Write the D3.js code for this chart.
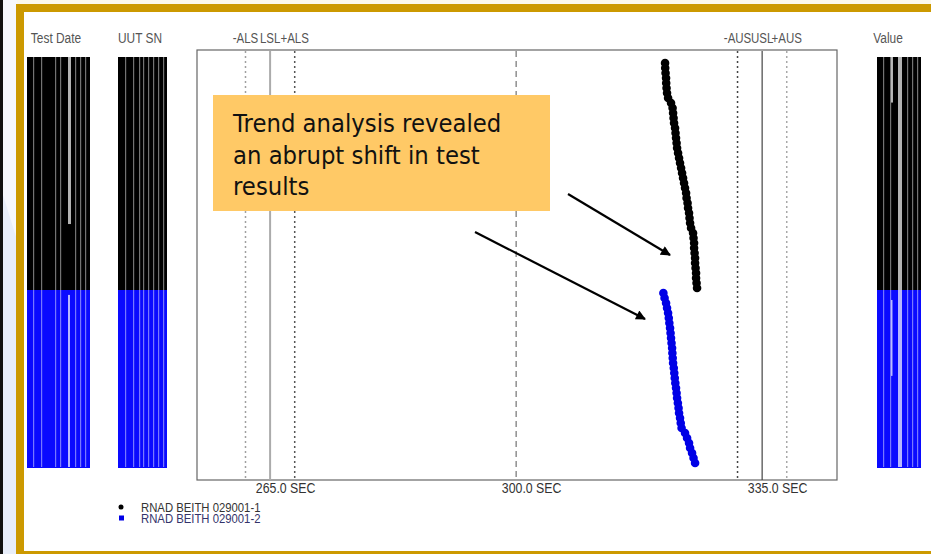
<!DOCTYPE html>
<html>
<head>
<meta charset="utf-8">
<script src="https://cdn.jsdelivr.net/npm/d3@7"></script>
<style>
  body { margin: 0; background: #fff; }
  svg { display: block; }
</style>
</head>
<body>
<svg id="chart" width="931" height="554"></svg>
<script>
// test results in seconds, one per run, in test order
let unit1Values = [
  321.19, 321.21, 321.26, 321.33, 321.35, 321.40, 321.47, 321.62, 322.04, 322.26,
  322.33, 322.40, 322.47, 322.61, 322.68, 322.75, 322.83, 322.90, 323.04, 323.18,
  323.32, 323.47, 323.61, 323.75, 323.89, 324.03, 324.18, 324.25, 324.39, 324.46,
  324.60, 324.67, 324.75, 324.89, 325.17, 325.24, 325.32, 325.32, 325.39, 325.46,
  325.46, 325.53, 325.60, 325.60, 325.67, 325.74
];
let unit2Values = [
  320.95, 321.12, 321.33, 321.47, 321.62, 321.72, 321.80, 321.90, 321.97, 322.04,
  322.11, 322.19, 322.23, 322.28, 322.33, 322.43, 322.50, 322.57, 322.65, 322.75,
  322.83, 322.90, 323.01, 323.11, 323.18, 323.32, 323.42, 323.54, 324.03, 324.32,
  324.60, 324.75, 325.03, 325.24, 325.46
];
let seriesNames = ["RNAD BEITH 029001-1", "RNAD BEITH 029001-2"];
let seriesColors = ["#000000", "#0000e6"];
let specLimits = [265, 335];      // LSL, USL
let alertBand = 3.5;              // +/- ALS, +/- AUS
let centerValue = 300;
let tickValues = [265, 300, 335];
let columnHeaders = ["Test Date", "UUT SN", "Value"];
let limitLabels = ["-ALS", "LSL", "+ALS", "-AUS", "USL", "+AUS"];
let calloutLines = ["Trend analysis revealed", "an abrupt shift in test", "results"];

let svg = d3.select("#chart");
let gold = "#cc9900";

// slide background and frame
svg.append("rect").attr("width", 931).attr("height", 554).attr("fill", "#fff");
svg.append("rect").attr("width", 931).attr("height", 5).attr("fill", "#fbf8ea");
svg.append("rect").attr("width", 17).attr("height", 554).attr("fill", "#f6f8fd");
svg.append("polygon").attr("points", "3,195 17,240 17,554 3,554").attr("fill", "#e8eefa");
svg.append("rect").attr("width", 3).attr("height", 554).attr("fill", "#111");
svg.append("rect")
  .attr("x", 20).attr("y", 8).attr("width", 960).attr("height", 547)
  .attr("fill", "#fff").attr("stroke", gold).attr("stroke-width", 8);

// rows: every run of both units, in order
let rows = unit1Values.map(v => ({ s: 0, v: v }))
  .concat(unit2Values.map(v => ({ s: 1, v: v })));

let plot = { left: 197, top: 50, right: 837, bottom: 480 };

let x = d3.scaleLinear().domain([254.6, 345.65]).range([plot.left, plot.right]);
let y = d3.scaleLinear().domain([0, rows.length - 1]).range([63, 463]);
let rowBand = d3.scaleBand().domain(d3.range(rows.length)).range([57, 467]);

// narrow font helper (the original uses a condensed face)
let narrow = (sel, factor) => {
  sel.each(function () {
    let len = this.getComputedTextLength();
    d3.select(this).attr("textLength", len * factor).attr("lengthAdjust", "spacingAndGlyphs");
  });
};

// listing columns drawn as packed rows
let columns = [
  { x: 27, w: 63, gaps: [6, 14, 28, 33, 48, 53, 58], light: [[41, 3, 0, 32], [41, 2, 47, 80]] },
  { x: 118, w: 49, gaps: [7, 15, 21, 25, 30, 35, 40, 45], light: [] },
  { x: 877, w: 44, gaps: [6, 13, 30, 35, 40], light: [[21, 4, 0, 80], [14, 2, 0, 8], [14, 1.5, 48, 62]] }
];

columns.forEach(col => {
  let g = svg.append("g");
  g.selectAll("rect.row")
    .data(rows)
    .enter()
    .append("rect")
    .attr("class", "row")
    .attr("x", col.x)
    .attr("y", (d, i) => rowBand(i))
    .attr("width", col.w)
    .attr("height", rowBand.bandwidth() + 1)
    .attr("shape-rendering", "crispEdges")
    .attr("fill", d => d.s === 0 ? "#000" : "#0a0aff");
  g.selectAll("rect.gap")
    .data(col.gaps)
    .enter()
    .append("rect")
    .attr("x", d => col.x + d)
    .attr("y", rowBand(0))
    .attr("width", 1.2)
    .attr("height", rowBand.range()[1] - rowBand(0))
    .attr("fill", "#fff")
    .attr("opacity", 0.45);
  col.light.forEach(l => {
    g.append("rect")
      .attr("x", col.x + l[0])
      .attr("y", rowBand(l[2]))
      .attr("width", l[1])
      .attr("height", rowBand(l[3]) + rowBand.bandwidth() - rowBand(l[2]))
      .attr("fill", "#fff")
      .attr("opacity", 0.7);
  });
});

// column headers
let headerX = [56, 140, 888];
svg.selectAll("text.header")
  .data(columnHeaders)
  .enter()
  .append("text")
  .attr("class", "header")
  .attr("x", (d, i) => headerX[i])
  .attr("y", 43)
  .attr("text-anchor", "middle")
  .attr("font-family", "Liberation Sans, Arial, sans-serif")
  .attr("font-size", 14)
  .attr("fill", "#555")
  .text(d => d)
  .call(narrow, 0.85);

// plot frame
svg.append("rect")
  .attr("x", plot.left).attr("y", plot.top)
  .attr("width", plot.right - plot.left).attr("height", plot.bottom - plot.top)
  .attr("fill", "#fff").attr("stroke", "#666").attr("stroke-width", 1.2);

// limit lines
let limitLines = [
  { v: specLimits[0] - alertBand, color: "#a0a0a0", dash: "2,3", w: 1.5 },
  { v: specLimits[0], color: "#ababab", dash: null, w: 2 },
  { v: specLimits[0] + alertBand, color: "#555", dash: "2,3", w: 1.5 },
  { v: specLimits[1] - alertBand, color: "#444", dash: "2,3", w: 1.5 },
  { v: specLimits[1], color: "#444", dash: null, w: 1.2 },
  { v: specLimits[1] + alertBand, color: "#a8a8a8", dash: "2,3", w: 1.5 }
];
svg.selectAll("line.limit")
  .data(limitLines)
  .enter()
  .append("line")
  .attr("class", "limit")
  .attr("x1", d => x(d.v)).attr("x2", d => x(d.v))
  .attr("y1", plot.top + 1).attr("y2", plot.bottom)
  .attr("stroke", d => d.color)
  .attr("stroke-width", d => d.w)
  .attr("stroke-dasharray", d => d.dash);

svg.append("line")
  .attr("x1", x(centerValue)).attr("x2", x(centerValue))
  .attr("y1", plot.top + 1).attr("y2", plot.bottom)
  .attr("stroke", "#555").attr("stroke-width", 1)
  .attr("stroke-dasharray", "6,4");

svg.selectAll("text.limit")
  .data(limitLines)
  .enter()
  .append("text")
  .attr("class", "limit")
  .attr("x", d => x(d.v))
  .attr("y", 43)
  .attr("text-anchor", "middle")
  .attr("font-family", "Liberation Sans, Arial, sans-serif")
  .attr("font-size", 14)
  .attr("fill", "#555")
  .text((d, i) => limitLabels[i])
  .call(narrow, 0.82);

// x axis
let xAxis = d3.axisBottom(x)
  .tickValues(tickValues)
  .tickSize(0)
  .tickPadding(3)
  .tickFormat(d => d.toFixed(1) + " SEC");
let axisG = svg.append("g")
  .attr("transform", "translate(0," + plot.bottom + ")")
  .call(xAxis);
axisG.select(".domain").remove();
axisG.selectAll("text")
  .attr("dx", 15)
  .attr("font-family", "Liberation Sans, Arial, sans-serif")
  .attr("font-size", 14)
  .attr("fill", "#333")
  .call(narrow, 0.88);

// data points
svg.append("g")
  .selectAll("circle")
  .data(rows)
  .enter()
  .append("circle")
  .attr("cx", d => x(d.v))
  .attr("cy", (d, i) => y(i))
  .attr("r", 4.3)
  .attr("fill", d => seriesColors[d.s]);

// legend
let legend = svg.append("g");
legend.append("circle").attr("cx", 121).attr("cy", 507).attr("r", 2.5).attr("fill", seriesColors[0]);
legend.append("rect").attr("x", 119).attr("y", 515.5).attr("width", 5).attr("height", 5).attr("fill", seriesColors[1]);
legend.selectAll("text")
  .data(seriesNames)
  .enter()
  .append("text")
  .attr("x", 141)
  .attr("y", (d, i) => 512 + i * 11)
  .attr("font-family", "Liberation Sans, Arial, sans-serif")
  .attr("font-size", 13)
  .attr("fill", (d, i) => i === 0 ? "#333" : "#33336a")
  .text(d => d)
  .call(narrow, 0.87);

// callout
svg.append("defs").append("marker")
  .attr("id", "arrow")
  .attr("viewBox", "0 0 10 10")
  .attr("refX", 9).attr("refY", 5)
  .attr("markerWidth", 5).attr("markerHeight", 4.5)
  .attr("orient", "auto")
  .append("path")
  .attr("d", "M0,0 L10,5 L0,10 Z")
  .attr("fill", "#000");

let callout = svg.append("g");
callout.append("rect")
  .attr("x", 213).attr("y", 95).attr("width", 337).attr("height", 116)
  .attr("fill", "#ffc966");
callout.selectAll("text")
  .data(calloutLines)
  .enter()
  .append("text")
  .attr("x", 233)
  .attr("y", (d, i) => 132 + i * 31.5)
  .attr("font-family", "DejaVu Sans, Verdana, sans-serif")
  .attr("font-size", 24.5)
  .attr("fill", "#111")
  .text(d => d)
  .call(narrow, 0.93);

let arrows = [[568, 194, 670, 255], [475, 232, 645, 319]];
svg.selectAll("line.arrow")
  .data(arrows)
  .enter()
  .append("line")
  .attr("class", "arrow")
  .attr("x1", d => d[0]).attr("y1", d => d[1])
  .attr("x2", d => d[2]).attr("y2", d => d[3])
  .attr("stroke", "#000").attr("stroke-width", 2.2)
  .attr("marker-end", "url(#arrow)");
</script>
</body>
</html>
